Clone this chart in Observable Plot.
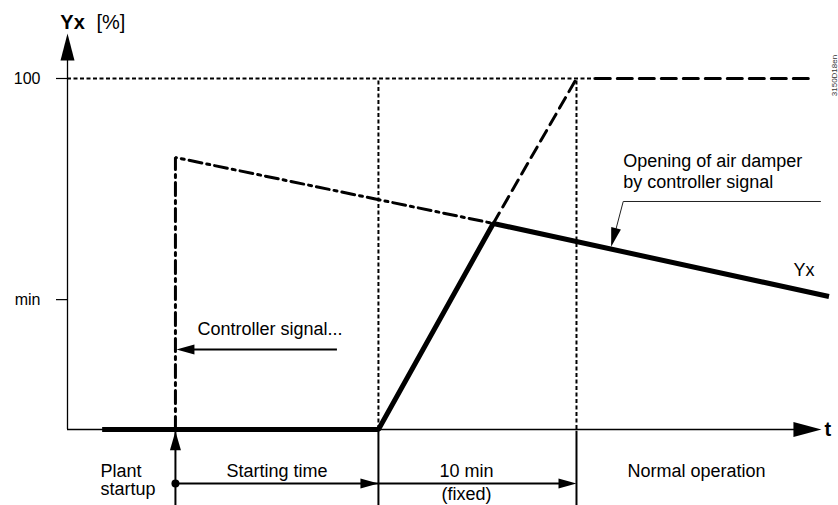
<!DOCTYPE html>
<html><head><meta charset="utf-8">
<script src="https://cdn.jsdelivr.net/npm/d3@7"></script>
<script src="https://cdn.jsdelivr.net/npm/@observablehq/plot@0.6"></script>
<style>body{margin:0;background:#fff} svg{display:block}</style>
</head><body><div id="chart"></div>
<script>
// ---- Data: time t in minutes after plant startup, Yx in % ----
const phaseBounds = [0, 10.25, 20.25];            // plant startup, end of starting time, end of 10 min (fixed)
const phaseLabels = ["Plant", "startup", "Starting time", "10 min", "(fixed)", "Normal operation"];
const yTickValues = [37, 100];
const yTickLabels = ["min", "100"];
const yxTime  = [-3.7, 10.25, 16.05, 33.0];       // Yx (thick solid line)
const yxValue = [0, 0, 58.7, 37.9];
const ctrlTime  = [0, 0, 16.05];                  // controller signal (dash-dot)
const ctrlValue = [0, 77.5, 58.7];
const rampTime  = [16.05, 20.25];                 // ramp continued to 100 % (dashed)
const rampValue = [58.7, 100];
const fullTime  = [21.2, 32.3];                   // 100 % during normal operation (thick dashed)
const fullValue = [100, 100];
const annotations = ["Controller signal...", "Opening of air damper", "by controller signal", "Yx"];
const axisTitle = ["Yx", "[%]", "t"];
const docCode = "3150D18en";

// ---- helpers ----
const pts = (ts, vs) => ts.map((t, i) => ({t, v: vs[i]}));
const head = (L, W) => ({draw(c) { c.moveTo(0, 0); c.lineTo(W / 2, L); c.lineTo(-W / 2, L); c.closePath(); }});
const X0 = -5.45;           // position of the Yx axis on the time scale
const rowV = -13.4;         // baseline of phase labels
const spanV = -15.4;        // level of the duration arrows
const bottomV = -22;
const font = "Liberation Sans, Arial, Helvetica, sans-serif";
const txt = (t, v, s, o = {}) => Plot.text([{t, v, s}], {x: "t", y: "v", text: "s", fontSize: 18, textAnchor: "start", lineAnchor: "bottom", fill: "black", ...o});
const mid = (a, b) => (a + b) / 2;
const [t0, t1, t2] = phaseBounds;

const chart = Plot.plot({
  width: 838, height: 505,
  marginLeft: 67, marginRight: 0, marginTop: 78, marginBottom: 76,
  x: {domain: [X0, 33.48], axis: null},
  y: {domain: [0, 100], axis: null},
  style: {fontFamily: font, color: "black", background: "white", overflow: "visible"},
  marks: [
    // reference lines
    Plot.ruleY([100], {x1: X0, x2: fullTime[0], stroke: "black", strokeWidth: 1.8, strokeDasharray: "4,2.5"}),
    Plot.ruleX(phaseBounds.slice(1), {y1: 0, y2: 100, stroke: "black", strokeWidth: 2, strokeDasharray: "4,2.5"}),
    // axes
    Plot.axisY(yTickValues, {tickFormat: d => yTickLabels[yTickValues.indexOf(d)], tickSize: 11, tickPadding: 16, fontSize: 16, label: null, strokeWidth: 1.2}),
    Plot.ruleX([X0], {y1: 0, y2: 106, stroke: "black", strokeWidth: 1.3}),
    Plot.dot([{t: X0, v: 112.8}], {x: "t", y: "v", symbol: head(27, 14), fill: "black", stroke: "none"}),
    Plot.ruleY([0], {x1: X0, x2: 31.5, stroke: "black", strokeWidth: 1.3}),
    Plot.dot([{t: 32.62, v: 0}], {x: "t", y: "v", symbol: head(28, 15), rotate: 90, fill: "black", stroke: "none"}),
    // phase boundaries below the axis
    Plot.ruleX(phaseBounds, {y1: -0.5, y2: bottomV, stroke: "black", strokeWidth: 2}),
    Plot.dot([{t: t0, v: -0.5}], {x: "t", y: "v", symbol: head(19, 11), fill: "black", stroke: "none"}),
    Plot.ruleY([spanV], {x1: t0, x2: t2 - 0.3, stroke: "black", strokeWidth: 2}),
    Plot.dot([{t: t1, v: spanV}, {t: t2, v: spanV}], {x: "t", y: "v", symbol: head(18, 10), rotate: 90, fill: "black", stroke: "none"}),
    Plot.dot([{t: t0, v: spanV}], {x: "t", y: "v", r: 4, fill: "black", stroke: "none"}),
    // curves
    Plot.line(pts(ctrlTime, ctrlValue), {x: "t", y: "v", stroke: "black", strokeWidth: 3, strokeDasharray: "13,5,3,5", strokeLinejoin: "miter"}),
    Plot.line(pts(rampTime, rampValue), {x: "t", y: "v", stroke: "black", strokeWidth: 3, strokeDasharray: "12,7"}),
    Plot.line(pts(fullTime, fullValue), {x: "t", y: "v", stroke: "black", strokeWidth: 3, strokeDasharray: "15,7"}),
    Plot.line(pts(yxTime, yxValue), {x: "t", y: "v", stroke: "black", strokeWidth: 5, strokeLinejoin: "miter", strokeLinecap: "butt"}),
    // controller signal pointer
    Plot.ruleY([22.8], {x1: 0.5, x2: 8.18, stroke: "black", strokeWidth: 2}),
    Plot.dot([{t: 0.05, v: 22.8}], {x: "t", y: "v", symbol: head(18, 10), rotate: -90, fill: "black", stroke: "none"}),
    // opening-of-damper leader
    Plot.line(pts([32.57, 22.61, 22.1], [64.96, 64.96, 54]), {x: "t", y: "v", stroke: "#222", strokeWidth: 1}),
    Plot.dot([{t: 22.0, v: 52.1}], {x: "t", y: "v", symbol: head(19, 10), rotate: 195, fill: "black", stroke: "none"}),
    // texts
    txt(-3.79, rowV, phaseLabels[0]),
    txt(-3.79, -18.6, phaseLabels[1]),
    txt(mid(t0, t1), rowV, phaseLabels[2], {textAnchor: "middle"}),
    txt(14.7, rowV, phaseLabels[3], {textAnchor: "middle"}),
    txt(14.7, -20.1, phaseLabels[4], {textAnchor: "middle"}),
    txt(26.31, rowV, phaseLabels[5], {textAnchor: "middle"}),
    txt(1.11, 26.8, annotations[0]),
    txt(22.61, 74.9, annotations[1]),
    txt(22.61, 68.7, annotations[2]),
    txt(31.21, 43.6, annotations[3]),
    txt(-5.81, 114.2, axisTitle[0], {fontSize: 20, fontWeight: "bold"}),
    txt(-3.99, 114.2, axisTitle[1], {fontSize: 20}),
    txt(32.77, -1.71, axisTitle[2], {fontSize: 20, fontWeight: "bold"}),
    Plot.text([{t: 33.27, v: 100.85, s: docCode}], {x: "t", y: "v", text: "s", rotate: -90, fontSize: 8, fill: "#333"})
  ]
});
document.getElementById("chart").append(chart);
</script>
</body></html>
